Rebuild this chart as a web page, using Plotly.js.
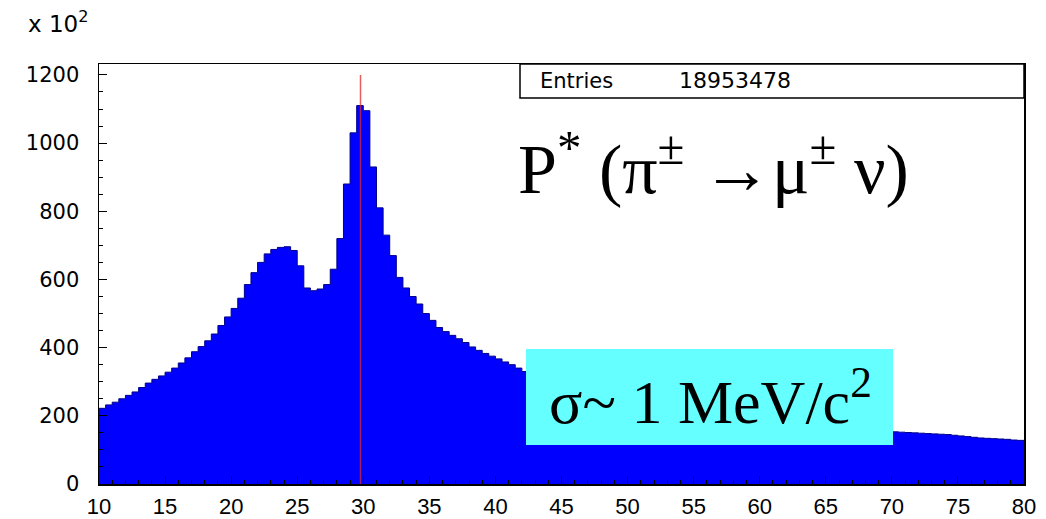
<!DOCTYPE html>
<html>
<head>
<meta charset="utf-8">
<script src="https://cdn.plot.ly/plotly-3.0.1.min.js"></script>
<style>html,body{margin:0;padding:0;background:#fff;}#chart{width:1046px;height:519px;}</style>
</head>
<body>
<div id="chart"></div>
<script>
// Histogram: P* momentum (MeV/c), counts in units of 10^2, bins of 0.5 from 10 to 80
const binLow = 10;
const binWidth = 0.5;
const counts = [
  222, 232, 240, 250, 260, 270, 283, 296, 307, 317,
  328, 340, 355, 370, 388, 403, 420, 440, 465, 490,
  515, 545, 585, 620, 650, 675, 688, 694, 696, 685,
  640, 575, 567, 572, 585, 630, 720, 880, 1030, 1110,
  1095, 930, 810, 730, 670, 606, 575, 550, 528, 500,
  480, 459, 447, 436, 426, 415, 402, 392, 383, 375,
  367, 358, 350, 340, 330, 322, 315, 308, 302, 296,
  290, 284, 278, 272, 267, 262, 257, 252, 248, 244,
  240, 236, 232, 228, 225, 222, 219, 216, 213, 210,
  207, 204, 202, 199, 197, 195, 193, 191, 189, 187,
  185, 183, 181, 179, 177, 176, 174, 172, 171, 169,
  168, 166, 165, 163, 162, 160, 159, 157, 156, 154,
  153, 152, 151, 150, 149, 148, 147, 146, 145, 143,
  141, 139, 137, 135, 134, 133, 132, 131, 129, 128
];
const peakMomentum = 29.79;
const peakLineTop = 1200;
const entries = "18953478";
const xTickVals = [10, 15, 20, 25, 30, 35, 40, 45, 50, 55, 60, 65, 70, 75, 80];
const yTickVals = [0, 200, 400, 600, 800, 1000, 1200];

// step outline built from bin edges
const xs = [], ys = [];
counts.forEach((c, i) => { xs.push(binLow + i * binWidth); ys.push(c); });
xs.push(binLow + counts.length * binWidth); ys.push(counts[counts.length - 1]);

const trace = {
  type: 'scatter', mode: 'lines', x: xs, y: ys,
  line: {shape: 'hv', color: 'rgb(0,0,140)', width: 1},
  fill: 'tozeroy', fillcolor: 'rgb(0,0,255)', hoverinfo: 'skip'
};
const peakLine = {
  type: 'scatter', mode: 'lines', x: [peakMomentum, peakMomentum], y: [0, peakLineTop],
  line: {color: 'rgba(220,40,40,0.75)', width: 1.5}, hoverinfo: 'skip'
};

const L = 99, R = 1024, T = 64, B = 484;
const px = v => (v - L) / (R - L);
const py = v => (B - v) / (B - T);

const layout = {
  width: 1046, height: 519,
  margin: {l: L, r: 1046 - R, t: T, b: 519 - B},
  paper_bgcolor: '#fff', plot_bgcolor: '#fff',
  showlegend: false,
  xaxis: {
    range: [10, 80], tickvals: xTickVals, ticks: 'inside', ticklen: 8, tickcolor: '#000',
    minor: {dtick: 1, ticks: 'inside', ticklen: 4, tickcolor: '#000'},
    showline: true, mirror: true, linecolor: '#000', linewidth: 1.5,
    showgrid: false, zeroline: false,
    tickfont: {family: 'Liberation Sans, Arial', size: 22, color: '#000'},
    ticklabelstandoff: 2
  },
  yaxis: {
    range: [0, 1232], tickvals: yTickVals, ticks: 'inside', ticklen: 8, tickcolor: '#000',
    minor: {dtick: 50, ticks: 'inside', ticklen: 4, tickcolor: '#000'},
    showline: true, mirror: true, linecolor: '#000', linewidth: 1.5,
    showgrid: false, zeroline: false,
    tickfont: {family: 'DejaVu Sans', size: 21, color: '#000'},
    ticklabelstandoff: 14
  },
  shapes: [
    {type: 'rect', xref: 'paper', yref: 'paper', x0: px(520), x1: 1, y0: py(98), y1: 1,
     line: {color: '#000', width: 1.5}, fillcolor: '#fff', layer: 'above'},
    {type: 'rect', xref: 'paper', yref: 'paper', x0: px(526), x1: px(893), y0: py(445), y1: py(349),
     line: {width: 0}, fillcolor: 'rgb(102,255,255)', layer: 'above'}
  ],
  annotations: [
    {xref: 'paper', yref: 'paper', x: px(58), y: py(22), xanchor: 'center', yanchor: 'middle',
     text: 'x 10<sup>2</sup>', showarrow: false,
     font: {family: 'DejaVu Sans', size: 23, color: '#000'}},
    {xref: 'paper', yref: 'paper', x: px(538), y: py(81), xanchor: 'left', yanchor: 'middle',
     text: 'Entries', showarrow: false,
     font: {family: 'DejaVu Sans', size: 21, color: '#000'}},
    {xref: 'paper', yref: 'paper', x: px(677), y: py(81), xanchor: 'left', yanchor: 'middle',
     text: entries, showarrow: false,
     font: {family: 'DejaVu Sans', size: 22, color: '#000'}},
    {xref: 'paper', yref: 'paper', x: px(713), y: py(164), xanchor: 'center', yanchor: 'middle',
     text: 'P<sup>*</sup> (π<sup>±</sup> →μ<sup>±</sup> ν)', showarrow: false,
     font: {family: 'Liberation Serif, Times New Roman', size: 70, color: '#000'}},
    {xref: 'paper', yref: 'paper', x: px(710), y: py(397), xanchor: 'center', yanchor: 'middle',
     text: 'σ~ 1 MeV/c<sup>2</sup>', showarrow: false,
     font: {family: 'Liberation Serif, Times New Roman', size: 62, color: '#000'}}
  ]
};

Plotly.newPlot('chart', [trace, peakLine], layout, {displayModeBar: false, staticPlot: true});
</script>
</body>
</html>
